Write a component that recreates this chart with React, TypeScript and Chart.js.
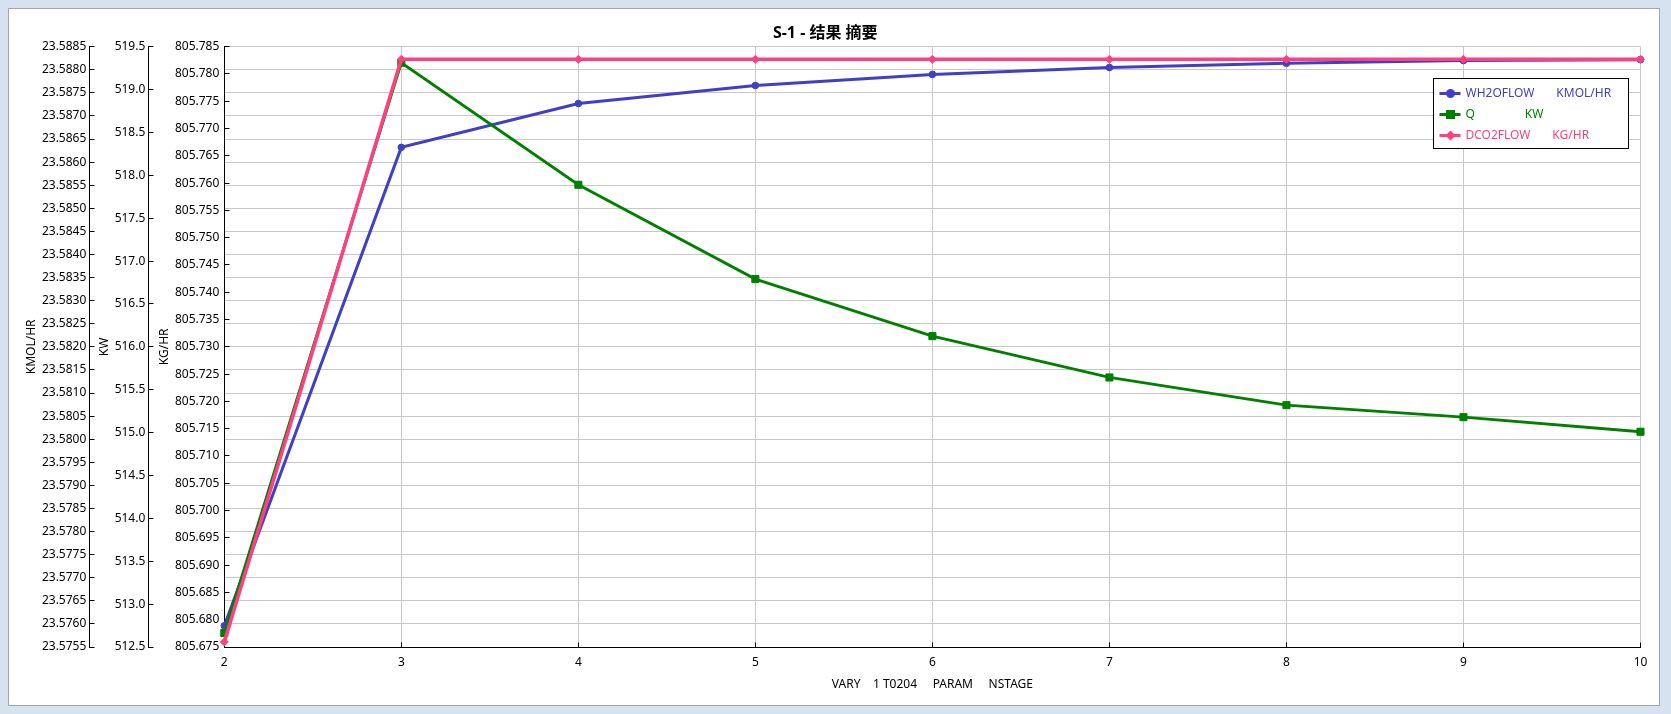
import { useEffect, useRef } from 'react';
import { Chart, registerables } from 'chart.js';

Chart.register(...registerables);

const chartTitle = 'S-1 - 结果 摘要';
const xAxisTitle = 'VARY    1 T0204     PARAM     NSTAGE';
const yAxisTitles = ['KMOL/HR', 'KW', 'KG/HR'];

const xValues = [2, 3, 4, 5, 6, 7, 8, 9, 10];
const wh2oFlow = [23.57596, 23.58632, 23.58727, 23.58766, 23.5879, 23.58805, 23.58814, 23.5882, 23.58822];
const qDuty = [512.663, 519.313, 517.89, 516.79, 516.125, 515.643, 515.32, 515.18, 515.01];
const dco2Flow = [805.67592, 805.78269, 805.78269, 805.78269, 805.78269, 805.78269, 805.78269, 805.78269, 805.78269];

const seriesLabels = ['WH2OFLOW       KMOL/HR', 'Q                KW', 'DCO2FLOW       KG/HR'];

// [min, max, step]
const kmolRange = [23.5755, 23.5885, 0.0005];
const kwRange = [512.5, 519.5, 0.5];
const kgRange = [805.675, 805.785, 0.005];
const xRange = [2, 10, 1];

const BLUE = '#4040C4';
const GREEN = '#008000';
const PINK = '#FF3F80';
const GRID = '#C8C8C8';
const FONT = '"Noto Sans", "Noto Sans CJK SC", sans-serif';

const align = (p: number) => Math.round(p - 0.5) + 0.5;

const tickMarksPlugin = {
  id: 'tickMarks',
  beforeDatasetsDraw(chart: any) {
    const ctx = chart.ctx;
    ctx.save();
    ctx.strokeStyle = '#000';
    ctx.lineWidth = 1;
    ctx.beginPath();
    for (const id of ['yKmol', 'yKw', 'yKg']) {
      const s = chart.scales[id];
      const x = align(s.right);
      s.ticks.forEach((t: any) => {
        const y = align(s.getPixelForValue(t.value));
        ctx.moveTo(x, y);
        ctx.lineTo(x + 5, y);
      });
    }
    const xs = chart.scales.x;
    const yb = align(xs.top);
    xs.ticks.forEach((t: any) => {
      const x = align(xs.getPixelForValue(t.value));
      ctx.moveTo(x, yb);
      ctx.lineTo(x, yb - 5);
    });
    ctx.stroke();
    ctx.restore();
  },
};

const boxLegendPlugin = {
  id: 'boxLegend',
  afterDraw(chart: any) {
    const ctx = chart.ctx;
    const ca = chart.chartArea;
    const w = 195;
    const h = 70;
    const x0 = Math.round(ca.right - 13 - w) + 0.5;
    const y0 = Math.round(ca.top + 31.5) + 0.5;
    ctx.save();
    ctx.fillStyle = '#fff';
    ctx.fillRect(x0, y0, w, h);
    ctx.strokeStyle = '#000';
    ctx.lineWidth = 1;
    ctx.strokeRect(x0, y0, w, h);
    ctx.font = `12px ${FONT}`;
    ctx.textBaseline = 'middle';
    ctx.textAlign = 'left';
    chart.data.datasets.forEach((ds: any, i: number) => {
      const y = y0 + 15 + i * 21;
      const c = ds.borderColor;
      ctx.strokeStyle = c;
      ctx.fillStyle = c;
      ctx.lineWidth = 3;
      ctx.beginPath();
      ctx.moveTo(x0 + 6, y);
      ctx.lineTo(x0 + 27, y);
      ctx.stroke();
      const mx = x0 + 17;
      ctx.beginPath();
      if (ds.pointStyle === 'circle') {
        ctx.arc(mx, y, 4.5, 0, Math.PI * 2);
      } else if (ds.pointStyle === 'rect') {
        ctx.rect(mx - 4.5, y - 4.5, 9, 9);
      } else {
        ctx.moveTo(mx - 5, y);
        ctx.lineTo(mx, y - 5);
        ctx.lineTo(mx + 5, y);
        ctx.lineTo(mx, y + 5);
        ctx.closePath();
      }
      ctx.fill();
      ctx.fillText(ds.label, x0 + 32, y);
    });
    ctx.restore();
  },
};

function leftAxis(range: number[], title: string, weight: number, width: number, decimals: number, titlePad: number, tickPad: number) {
  return {
    type: 'linear',
    position: 'left',
    weight,
    min: range[0],
    max: range[1],
    afterFit: (s: any) => {
      s.width = width;
    },
    ticks: {
      stepSize: range[2],
      autoSkip: false,
      color: '#000',
      font: { family: FONT, size: 12 },
      padding: tickPad,
      callback: (v: any) => Number(v).toFixed(decimals),
    },
    grid: { display: true, drawOnChartArea: false, drawTicks: false, color: GRID },
    border: { display: true, color: '#000', width: 1 },
    title: {
      display: true,
      text: title,
      color: '#000',
      font: { family: FONT, size: 12 },
      padding: { top: titlePad, bottom: 0 },
    },
  };
}

export default function App() {
  const ref = useRef<HTMLCanvasElement>(null);

  useEffect(() => {
    const canvas = ref.current;
    if (!canvas) return;
    const pts = (arr: number[]) => xValues.map((x, i) => ({ x, y: arr[i] }));
    const chart = new Chart(canvas, {
      type: 'line',
      data: {
        datasets: [
          {
            label: seriesLabels[0],
            data: pts(wh2oFlow),
            yAxisID: 'yKmol',
            borderColor: BLUE,
            backgroundColor: BLUE,
            pointBackgroundColor: BLUE,
            pointBorderColor: BLUE,
            borderWidth: 3,
            pointStyle: 'circle',
            pointRadius: 3.3,
            pointBorderWidth: 1,
            tension: 0,
            order: 3,
            clip: false,
          },
          {
            label: seriesLabels[1],
            data: pts(qDuty),
            yAxisID: 'yKw',
            borderColor: GREEN,
            backgroundColor: GREEN,
            pointBackgroundColor: GREEN,
            pointBorderColor: GREEN,
            borderWidth: 2.8,
            pointStyle: 'rect',
            pointRadius: 5,
            pointBorderWidth: 1,
            tension: 0,
            order: 2,
            clip: false,
          },
          {
            label: seriesLabels[2],
            data: pts(dco2Flow),
            yAxisID: 'yKg',
            borderColor: PINK,
            backgroundColor: PINK,
            pointBackgroundColor: PINK,
            pointBorderColor: PINK,
            borderWidth: 3.5,
            pointStyle: 'rectRot',
            pointRadius: 4,
            pointBorderWidth: 1,
            tension: 0,
            order: 1,
            clip: false,
          },
        ],
      },
      options: {
        responsive: false,
        animation: false,
        devicePixelRatio: 1,
        layout: { padding: { left: 10, right: 30.5, top: 10, bottom: 18.2 } },
        plugins: {
          legend: { display: false },
          tooltip: { enabled: false },
          title: {
            display: true,
            text: chartTitle,
            color: '#000',
            font: { family: FONT, size: 16, weight: 'bold' },
            padding: { top: 14, bottom: 3.5 },
          },
        },
        scales: {
          x: {
            type: 'linear',
            min: xRange[0],
            max: xRange[1],
            ticks: {
              stepSize: xRange[2],
              color: '#000',
              font: { family: FONT, size: 12 },
              padding: 8,
            },
            grid: { color: GRID, drawTicks: false },
            border: { color: '#000', width: 1 },
            title: {
              display: true,
              text: xAxisTitle,
              color: '#000',
              font: { family: FONT, size: 12 },
              padding: { top: 0, bottom: 4 },
            },
          },
          yGrid: {
            type: 'linear',
            position: 'left',
            weight: -1,
            min: kmolRange[0],
            max: kmolRange[1],
            afterFit: (s: any) => {
              s.width = 0;
            },
            ticks: { display: false, stepSize: kmolRange[2], autoSkip: false },
            grid: { color: GRID, drawTicks: false },
            border: { display: false },
          },
          yKg: leftAxis(kgRange, yAxisTitles[2], 0, 76, 3, 9.5, 5),
          yKw: leftAxis(kwRange, yAxisTitles[1], 1, 59, 1, 8.5, 3),
          yKmol: leftAxis(kmolRange, yAxisTitles[0], 2, 79.3, 4, 14.8, 3),
        },
      } as any,
      plugins: [tickMarksPlugin, boxLegendPlugin],
    } as any);
    return () => chart.destroy();
  }, []);

  return (
    <div
      style={{
        position: 'fixed',
        left: 0,
        top: 0,
        width: 1671,
        height: 714,
        background: '#d6e2f0',
        overflow: 'hidden',
      }}
    >
      <div
        style={{
          position: 'absolute',
          left: 8,
          top: 8,
          width: 1652,
          height: 698,
          background: '#fff',
          border: '1px solid #9ea7b4',
          boxSizing: 'border-box',
        }}
      />
      <canvas
        ref={ref}
        width={1671}
        height={714}
        style={{ position: 'absolute', left: 0, top: 0, width: 1671, height: 714 }}
      />
    </div>
  );
}
